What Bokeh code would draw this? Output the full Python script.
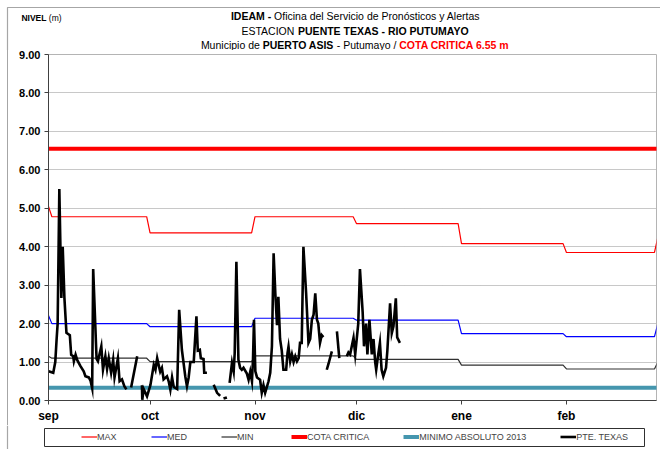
from bokeh.plotting import figure
from bokeh.layouts import column
from bokeh.models import FixedTicker, Legend, LegendItem, Range1d, NumeralTickFormatter
from bokeh.core.properties import value
from bokeh.embed import file_html
from bokeh.resources import INLINE

NAN = float("nan")

# ---------------- data ----------------
month_labels = ["sep", "oct", "nov", "dic", "ene", "feb"]
month_start_day = [0, 30, 61, 91, 122, 153]
y_ticks = [0, 1, 2, 3, 4, 5, 6, 7, 8, 9]

# monthly reference levels (breakpoint day, value)
max_day = [0, 1, 29, 30, 60, 61, 90, 91, 121, 122, 152, 153, 179, 180]
max_val = [5.05, 4.78, 4.78, 4.36, 4.36, 4.78, 4.78, 4.60, 4.60, 4.08, 4.08, 3.85, 3.85, 4.25]
med_day = [0, 1, 29, 30, 60, 61, 90, 91, 121, 122, 152, 153, 179, 180]
med_val = [2.21, 2.00, 2.00, 1.92, 1.92, 2.14, 2.14, 2.09, 2.09, 1.74, 1.74, 1.66, 1.66, 2.00]
min_day = [0, 1, 29, 30, 60, 61, 90, 91, 121, 122, 152, 153, 179, 180]
min_val = [1.15, 1.10, 1.10, 1.01, 1.01, 1.16, 1.16, 1.07, 1.07, 0.92, 0.92, 0.82, 0.82, 1.00]

cota_critica = 6.55
minimo_abs_2013 = 0.33
level_day = [0, 180]

pte_day = [0.0, 1.4, 2.0, 2.4, 2.7, 3.2, 3.8, 4.2, 4.7, 5.3, 6.3, 6.7, 7.3, 7.5, 8.0,
           8.5, 9.4, 10.4, 10.9, 11.9, 12.4, 12.9, 13.2, 14.2, 14.6, 15.6, 16.1, 16.8,
           17.3, 17.8, 18.5, 19.1, 19.5, 20.5, 21.0, 21.7, 22.4, 23.0, 23.5,
           24.4, 26.2, 26.5,
           27.6, 27.7, 28.1, 29.1, 30.1, 31.1, 31.6, 32.1, 32.6, 33.0, 33.5, 34.0, 35.0,
           35.5, 36.0, 36.5, 37.0, 38.0, 38.6, 39.4, 40.4, 40.9, 41.4, 41.9, 42.9, 43.7,
           44.1, 44.7, 45.0, 45.8, 46.0, 46.8, 47.5,
           48.8, 49.8, 50.7, 51.2,
           51.7, 52.7, 53.1,
           53.5, 54.2, 54.7, 55.0, 55.5, 56.1, 56.6, 57.1, 57.6, 58.6, 59.1, 59.6, 60.1,
           60.4, 60.7, 61.1, 61.6, 62.5, 63.0, 63.5, 64.0, 65.0, 65.5, 66.0, 66.5, 67.0,
           67.5, 67.9, 68.4, 68.9, 69.4, 70.2, 70.6, 70.9, 71.4, 71.9, 72.4, 72.9, 73.4,
           73.9, 74.3, 74.8, 75.3, 76.1, 76.8, 77.3, 77.8, 78.3, 78.8, 79.3, 79.7, 80.2,
           80.7, 81.2, 81.7,
           82.2, 82.7, 83.7, 84.4,
           85.2, 85.9, 87.0,
           88.1, 88.6, 89.1, 90.1, 90.6, 91.5, 92.0, 92.8, 93.2, 93.8, 94.2, 94.8, 95.5,
           96.0, 96.5, 96.8, 97.4, 97.9, 98.4, 98.9, 99.7, 100.1, 100.9, 101.4, 101.9,
           102.6, 103.0, 103.8]
pte_val = [0.76, 0.72, 1.00, 1.60, 2.00, 5.50, 2.67, 4.00, 2.67, 1.76, 1.70, 1.19, 1.15, 1.02, 1.19,
           1.05, 0.90, 0.76, 0.63, 0.60, 0.52, 0.32, 3.42, 1.08, 1.02, 1.41, 0.80, 1.15,
           0.82, 1.10, 0.72, 1.06, 0.60, 1.10, 0.50, 0.55, 0.37, 0.29, NAN,
           0.34, 1.15, NAN,
           0.40, 0.02, 0.30, 0.11, 0.40, 0.93, 0.80, 1.10, 0.90, 0.75, 0.85, 0.55, 0.63,
           0.50, 0.28, 0.60, 0.35, 0.30, 2.36, 1.32, 0.63, 0.37, 0.60, 1.00, 1.00, 2.19,
           1.30, 1.32, 1.10, 1.08, 0.72, 0.72, NAN,
           0.41, 0.20, 0.12, NAN,
           0.05, 0.08, NAN,
           0.46, 0.98, 0.75, 1.23, 3.61, 1.06, 0.85, 0.80, 0.85, 0.70, 0.54, 0.75, 0.50,
           1.06, 2.10, 0.76, 0.60, 0.54, 0.20, 0.40, 0.20, 0.50, 0.72, 1.41, 3.83, 2.79,
           1.96, 2.70, 1.60, 1.30, 0.80, 0.80, 1.23, 1.40, 1.02, 1.20, 1.00, 1.15, 1.02,
           1.10, 1.50, 1.50, 4.00, 2.79, 1.50, 1.60, 2.10, 2.23, 2.79, 2.10, 2.00, 1.50,
           1.70, 1.65, NAN,
           0.80, 0.95, 1.28, NAN,
           1.80, 1.10, NAN,
           1.15, 1.25, 1.20, 1.63, 1.20, 2.00, 3.42, 2.30, 1.41, 2.00, 1.20, 2.10, 1.20,
           1.60, 1.00, 0.80, 1.20, 1.50, 0.80, 0.63, 0.85, 1.30, 2.53, 1.75, 1.93,
           2.66, 1.64, 1.50]

series_names = ["MAX", "MED", "MIN", "COTA CRITICA", "MINIMO ABSOLUTO 2013", "PTE. TEXAS"]
series_x = {"MAX": max_day, "MED": med_day, "MIN": min_day, "COTA CRITICA": level_day,
            "MINIMO ABSOLUTO 2013": level_day, "PTE. TEXAS": pte_day}
series_y = {"MAX": max_val, "MED": med_val, "MIN": min_val,
            "COTA CRITICA": [cota_critica] * len(level_day),
            "MINIMO ABSOLUTO 2013": [minimo_abs_2013] * len(level_day),
            "PTE. TEXAS": pte_val}

# title lines: (text, bold, colour)
title_line1 = [("IDEAM -", True, "#000000"), ("Oficina del Servicio de Pronósticos y Alertas", False, "#000000")]
title_line2 = [("ESTACION", False, "#000000"), ("PUENTE TEXAS - RIO PUTUMAYO", True, "#000000")]
title_line3 = [("Municipio de", False, "#000000"), ("PUERTO ASIS", True, "#000000"),
               ("- Putumayo /", False, "#000000"), ("COTA CRITICA 6.55 m", True, "#FF0000")]

# ---------------- styles ----------------
FONT = "Liberation Sans"
GRAY_FRAME = "#a6a6a6"
styles = {
    "MAX": dict(line_color="#FF0000", line_width=1.2),
    "MED": dict(line_color="#0000FF", line_width=1.2),
    "MIN": dict(line_color="#303030", line_width=1.2),
    "COTA CRITICA": dict(line_color="#FF0000", line_width=4),
    "MINIMO ABSOLUTO 2013": dict(line_color="#4596AE", line_width=4),
    "PTE. TEXAS": dict(line_color="#000000", line_width=2.6),
}

# approximate Arial/Liberation Sans advance widths (per 1000 em) for text layout
_REG = {" ": 278, "-": 333, "/": 278, ".": 278, "(": 333, ")": 333,
        "a": 556, "b": 556, "c": 500, "d": 556, "e": 556, "f": 278, "g": 556, "h": 556,
        "i": 222, "j": 222, "k": 500, "l": 222, "m": 833, "n": 556, "o": 556, "ó": 556,
        "p": 556, "q": 556, "r": 333, "s": 500, "t": 278, "u": 556, "v": 500, "w": 722,
        "x": 500, "y": 500, "z": 500, "A": 667, "B": 667, "C": 722, "D": 722, "E": 667,
        "F": 611, "G": 778, "H": 722, "I": 278, "J": 500, "K": 667, "L": 556, "M": 833,
        "N": 722, "O": 778, "P": 667, "Q": 778, "R": 722, "S": 667, "T": 611, "U": 722,
        "V": 667, "W": 944, "X": 667, "Y": 667, "Z": 611}
_BOLD = dict(_REG)
_BOLD.update({"A": 722, "B": 722, "K": 722, "L": 611, "m": 889, "J": 556})


def text_width(s, bold, size):
    table = _BOLD if bold else _REG
    return sum(table.get(ch, 556) for ch in s) * size / 1000.0


# ---------------- top: titles ----------------
top = figure(width=660, height=50, output_backend="svg", toolbar_location=None,
             x_range=Range1d(0, 660), y_range=Range1d(50, 0),
             x_axis_location=None, y_axis_location=None,
             min_border_left=0, min_border_right=0, min_border_top=0, min_border_bottom=0)
top.frame_align = False
top.grid.visible = False
top.outline_line_color = None
top.border_fill_color = "white"
top.background_fill_color = "white"
top.line([7, 7, 660], [50, 7, 7], line_color=GRAY_FRAME, line_width=1.2)


def draw_line(fig, y, pieces, center, size):
    gap = 278 * size / 1000.0
    widths = [text_width(t, b, size) for t, b, c in pieces]
    total = sum(widths) + gap * (len(pieces) - 1)
    x = center - total / 2.0
    for (t, b, c), w in zip(pieces, widths):
        fig.text(x=[x], y=[y], text=[t], text_font=value(FONT),
                 text_font_style="bold" if b else "normal", text_font_size=f"{size}px",
                 text_color=c, text_baseline="middle", text_align="left")
        x += w + gap


draw_line(top, 15, title_line1, 355, 10.5)
draw_line(top, 30, title_line2, 355, 10.5)
draw_line(top, 44.5, title_line3, 355, 10.5)
draw_line(top, 17, [("NIVEL", True, "#000000"), ("(m)", False, "#000000")], 41, 8.5)

# ---------------- main plot ----------------
p = figure(width=660, height=375, output_backend="svg", toolbar_location=None,
           x_range=Range1d(0, 179.6), y_range=Range1d(0, 9),
           min_border_left=48, min_border_top=4, min_border_right=4, min_border_bottom=24)
p.frame_align = False
p.border_fill_alpha = 0
p.background_fill_color = "white"
p.styles = {"background-image": "linear-gradient(to right, #ffffff 7px, #a6a6a6 7px, #a6a6a6 8px, #ffffff 8px)"}
p.outline_line_color = "#b4b4b4"
p.outline_line_width = 1

p.xgrid.visible = False
p.ygrid.grid_line_color = "#909090"
p.ygrid.grid_line_dash = "1 1"
p.ygrid.grid_line_width = 1
p.ygrid.ticker = FixedTicker(ticks=y_ticks)

p.yaxis.ticker = FixedTicker(ticks=y_ticks)
p.yaxis.formatter = NumeralTickFormatter(format="0.00")
p.yaxis.major_label_text_font = FONT
p.yaxis.major_label_text_font_style = "bold"
p.yaxis.major_label_text_font_size = "11px"
p.yaxis.major_label_text_color = "#000000"
p.yaxis.major_tick_in = 0
p.yaxis.major_tick_out = 4
p.yaxis.minor_tick_line_color = None
p.yaxis.axis_line_color = "#404040"
p.yaxis.major_tick_line_color = "#404040"
p.yaxis.major_label_standoff = 4

p.xaxis.ticker = FixedTicker(ticks=month_start_day)
p.xaxis.major_label_overrides = {d: lab for d, lab in zip(month_start_day, month_labels)}
p.xaxis.major_label_text_font = FONT
p.xaxis.major_label_text_font_style = "bold"
p.xaxis.major_label_text_font_size = "12px"
p.xaxis.major_label_text_color = "#000000"
p.xaxis.major_tick_in = 0
p.xaxis.major_tick_out = 4
p.xaxis.minor_tick_line_color = None
p.xaxis.axis_line_color = "#404040"
p.xaxis.major_tick_line_color = "#404040"
p.xaxis.major_label_standoff = 4

for name in series_names:
    extra = dict(line_join="miter") if name == "PTE. TEXAS" else {}
    p.line(series_x[name], series_y[name], **styles[name], **extra)

# ---------------- bottom: legend ----------------
bot = figure(width=660, height=24, output_backend="svg", toolbar_location=None,
             x_range=Range1d(0, 660), y_range=Range1d(449, 425),
             x_axis_location=None, y_axis_location=None,
             min_border_left=0, min_border_right=0, min_border_top=0, min_border_bottom=0)
bot.frame_align = False
bot.grid.visible = False
bot.outline_line_color = None
bot.border_fill_color = "white"
bot.background_fill_color = "white"
bot.line([7, 7], [425, 449], line_color=GRAY_FRAME, line_width=1.2)
bot.quad(left=[44], right=[644], top=[428], bottom=[446], fill_alpha=0,
         line_color="#303030", line_width=1)

# legend swatches: the same series in this strip's coordinates (they fall outside its view)
items = []
for name in series_names:
    r = bot.line(series_x[name], series_y[name], **styles[name])
    items.append(LegendItem(label=name, renderers=[r]))
legend = Legend(items=items, orientation="horizontal", location=(81, 7), spacing=34,
                glyph_width=16, glyph_height=11, label_standoff=0, label_text_font=FONT,
                label_text_font_size="9px", padding=0, margin=0, border_line_alpha=0,
                background_fill_alpha=0, label_height=11)
bot.add_layout(legend, "center")

layout = column(top, p, bot, spacing=0)
open("out.html", "w").write(file_html(layout, INLINE))
